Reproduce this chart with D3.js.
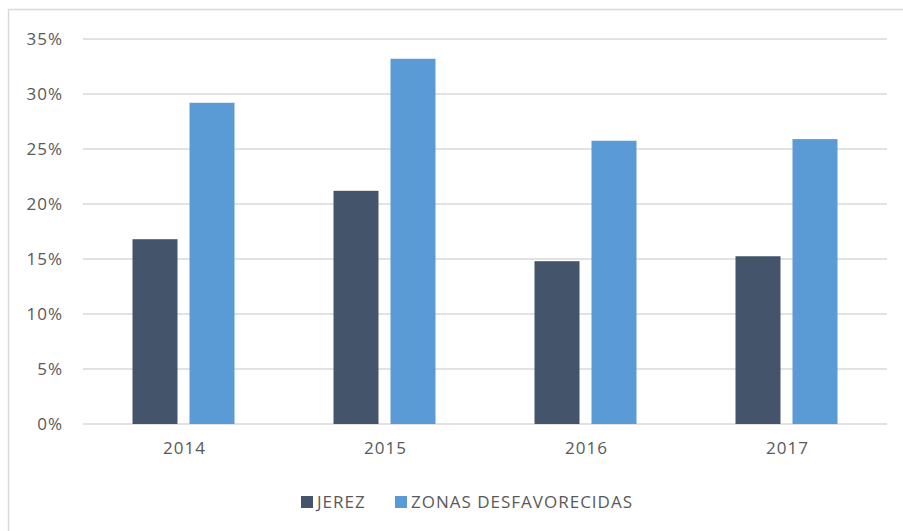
<!DOCTYPE html>
<html>
<head>
<meta charset="utf-8">
<script src="https://cdn.jsdelivr.net/npm/d3@7"></script>
<style>
  html, body { margin: 0; padding: 0; background: #fff; }
  svg { display: block; font-family: "Open Sans", "Liberation Sans", sans-serif; }
  .lbl { fill: #595959; font-size: 17px; letter-spacing: 1px; font-family: "Open Sans", sans-serif; }
</style>
</head>
<body>
<svg id="chart" width="903" height="531"></svg>
<script>
// Share of population by year: Jerez vs. disadvantaged zones
const years = ["2014", "2015", "2016", "2017"];
const seriesNames = ["JEREZ", "ZONAS DESFAVORECIDAS"];
const jerez = [16.8, 21.2, 14.8, 15.25];
const zonas = [29.2, 33.2, 25.75, 25.9];
const yTicks = [0, 5, 10, 15, 20, 25, 30, 35];
const colors = ["#44546a", "#5b9bd5"];

const svg = d3.select("#chart");
const W = 903, H = 531;
const plot = { left: 83, right: 887, top: 39, bottom: 424 };

// outer chart frame (top and left edges visible)
svg.append("path")
  .attr("d", `M8.5,${H} L8.5,9.5 L${W},9.5`)
  .attr("fill", "none")
  .attr("stroke", "#d9d9d9")
  .attr("stroke-width", 1.5);

const x = d3.scaleBand().domain(years).range([plot.left, plot.right]);
const y = d3.scaleLinear().domain([0, 35]).range([plot.bottom, plot.top]);
const barW = 45, gap = 12;
const groupW = barW * 2 + gap;

// gridlines
svg.append("g")
  .selectAll("line").data(yTicks).join("line")
  .attr("x1", plot.left).attr("x2", plot.right)
  .attr("y1", d => y(d)).attr("y2", d => y(d))
  .attr("stroke", "#d9d9d9").attr("stroke-width", 1.3);

// y axis labels
const yAxis = d3.axisLeft(y).tickValues(yTicks).tickFormat(d => d + "%").tickSize(0).tickPadding(0);
const gy = svg.append("g").attr("transform", "translate(63,0)").call(yAxis);
gy.select(".domain").remove();
gy.selectAll("text").attr("class", "lbl").attr("font-size", null).attr("font-family", null);

// x axis labels
const xAxis = d3.axisBottom(x).tickSize(0).tickPadding(0);
const gx = svg.append("g").attr("transform", `translate(1,${plot.bottom + 18})`).call(xAxis);
gx.select(".domain").remove();
gx.selectAll("text").attr("class", "lbl");
gy.attr("font-size", null).attr("font-family", null);
gx.attr("font-size", null).attr("font-family", null);

// bars
const series = [jerez, zonas];
const g = svg.append("g");
years.forEach((yr, i) => {
  const gx0 = x(yr) + (x.bandwidth() - groupW) / 2;
  series.forEach((vals, j) => {
    g.append("rect")
      .attr("x", gx0 + j * (barW + gap))
      .attr("y", y(vals[i]))
      .attr("width", barW)
      .attr("height", y(0) - y(vals[i]))
      .attr("fill", colors[j]);
  });
});

// legend
const legend = svg.append("g").attr("transform", "translate(0,502)");
const legendItems = [{ name: seriesNames[0], x: 301 }, { name: seriesNames[1], x: 395 }];
legendItems.forEach((it, j) => {
  legend.append("rect").attr("x", it.x).attr("y", -6).attr("width", 12).attr("height", 12).attr("fill", colors[j]);
  legend.append("text").attr("class", "lbl").attr("x", it.x + 16).attr("y", 0).attr("dy", "0.35em").text(it.name);
});
</script>
</body>
</html>
